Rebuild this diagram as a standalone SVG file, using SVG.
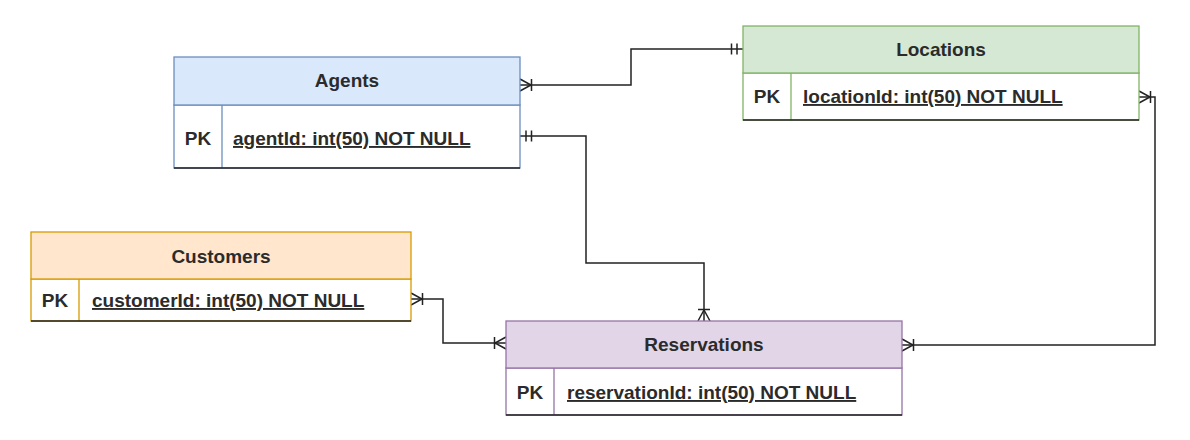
<svg xmlns="http://www.w3.org/2000/svg" width="1190" height="440" viewBox="0 0 1190 440">
<style>
text{font-family:"Liberation Sans",Arial,sans-serif;font-size:19px;font-weight:bold;fill:#2b2b2b}
.c{text-anchor:middle}
.u{text-decoration:underline}
.body{fill:#ffffff}
.bot{stroke:#222;stroke-width:1.5}
.conn{fill:none;stroke:#222;stroke-width:1.5}
.mk{fill:none;stroke:#222;stroke-width:1.5}
.blue{stroke:#6c8ebf;stroke-width:1.3}
.green{stroke:#82b366;stroke-width:1.3}
.orange{stroke:#d79b00;stroke-width:1.3}
.purple{stroke:#9673a6;stroke-width:1.3}
</style>
<defs>
<marker id="oneMany" markerUnits="userSpaceOnUse" viewBox="-15 -15 30 30" markerWidth="30" markerHeight="30" refX="0" refY="0" orient="auto-start-reverse" overflow="visible">
<path class="mk" d="M0,-6 L-11,0 L0,6 M-11.5,-6 L-11.5,6"/>
</marker>
<marker id="mandOne" markerUnits="userSpaceOnUse" viewBox="-15 -15 30 30" markerWidth="30" markerHeight="30" refX="0" refY="0" orient="auto-start-reverse" overflow="visible">
<path class="mk" d="M-6,-5.5 L-6,5.5 M-11.5,-5.5 L-11.5,5.5"/>
</marker>
</defs>
<rect width="1190" height="440" fill="#ffffff"/>

<g id="connectors">
<path class="conn" d="M520 85 H631 V49 H743" marker-start="url(#oneMany)" marker-end="url(#mandOne)"/>
<path class="conn" d="M520 136 H586 V263 H704 V321" marker-start="url(#mandOne)" marker-end="url(#oneMany)"/>
<path class="conn" d="M411 299 H443 V343 H506" marker-start="url(#oneMany)" marker-end="url(#oneMany)"/>
<path class="conn" d="M902 345 H1155 V97 H1139" marker-start="url(#oneMany)" marker-end="url(#oneMany)"/>
</g>

<g id="agents">
<rect x="174" y="105" width="346" height="63" class="body blue"/>
<rect x="174" y="57" width="346" height="48" fill="#dae8fc" class="blue"/>
<line x1="222" y1="105" x2="222" y2="168" class="blue"/>
<line x1="174" y1="168" x2="520" y2="168" class="bot"/>
<text x="347" y="87" class="c">Agents</text>
<text x="198" y="145" class="c">PK</text>
<text x="233" y="145" class="u">agentId: int(50) NOT NULL</text>
</g>

<g id="locations">
<rect x="743" y="73" width="396" height="47" class="body green"/>
<rect x="743" y="26" width="396" height="47" fill="#d5e8d4" class="green"/>
<line x1="791" y1="73" x2="791" y2="120" class="green"/>
<line x1="743" y1="120" x2="1139" y2="120" class="bot"/>
<text x="941" y="55.5" class="c">Locations</text>
<text x="767" y="103" class="c">PK</text>
<text x="803" y="103" class="u">locationId: int(50) NOT NULL</text>
</g>

<g id="customers">
<rect x="31" y="279" width="380" height="42" class="body orange"/>
<rect x="31" y="232" width="380" height="47" fill="#ffe6cc" class="orange"/>
<line x1="79" y1="279" x2="79" y2="321" class="orange"/>
<line x1="31" y1="321" x2="411" y2="321" class="bot"/>
<text x="221" y="262.5" class="c">Customers</text>
<text x="55" y="307" class="c">PK</text>
<text x="92" y="307" class="u">customerId: int(50) NOT NULL</text>
</g>

<g id="reservations">
<rect x="506" y="368" width="396" height="47" class="body purple"/>
<rect x="506" y="321" width="396" height="47" fill="#e1d5e7" class="purple"/>
<line x1="554" y1="368" x2="554" y2="415" class="purple"/>
<line x1="506" y1="415" x2="902" y2="415" class="bot"/>
<text x="704" y="351" class="c">Reservations</text>
<text x="530" y="399" class="c">PK</text>
<text x="567" y="399" class="u">reservationId: int(50) NOT NULL</text>
</g>
</svg>
